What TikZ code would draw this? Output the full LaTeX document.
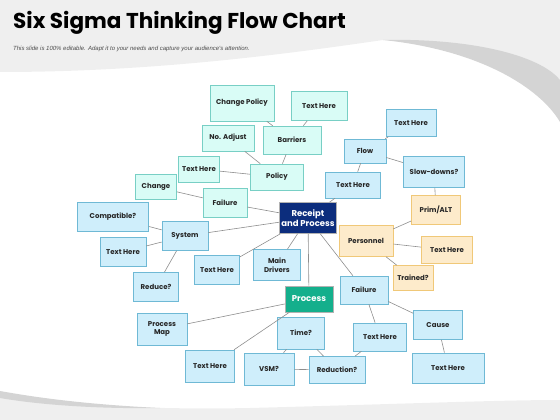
\documentclass[tikz,border=0pt]{standalone}
\usepackage{fontspec}
\setmainfont{Poppins}
\newfontfamily\subfont{Liberation Sans}
\usepackage{xcolor}
\usepackage{tikz}
\usetikzlibrary{positioning,shadows}

\definecolor{bandgray}{HTML}{EFEFEF}
\definecolor{swoosh}{HTML}{D4D4D4}
\definecolor{mintfill}{HTML}{D9FCF6}
\definecolor{mintline}{HTML}{78CFC5}
\definecolor{skyfill}{HTML}{CFEEFB}
\definecolor{skyline}{HTML}{6FB9D5}
\definecolor{sandfill}{HTML}{FDEBCB}
\definecolor{sandline}{HTML}{F0C878}
\definecolor{navyfill}{HTML}{0C2D7D}
\definecolor{tealfill}{HTML}{14AF8C}
\definecolor{linkgray}{HTML}{8E8E8E}

\begin{document}
\begin{tikzpicture}[x=1pt, y=-1pt,
  box/.style={draw, rectangle, inner sep=1pt, align=center, text=black!85,
    font=\fontsize{7}{8.5}\selectfont\bfseries, line width=0.6pt,
    drop shadow={shadow xshift=0.8pt, shadow yshift=-0.8pt, opacity=0.2, fill=black}},
  sz/.style 2 args={minimum width=#1pt, minimum height=#2pt},
  cbox/.style={box, fill=mintfill, draw=mintline},
  bbox/.style={box, fill=skyfill, draw=skyline},
  obox/.style={box, fill=sandfill, draw=sandline},
  hub/.style={box, text=white, draw=white!70!black,
    font=\fontsize{8.5}{10}\selectfont\bfseries},
  link/.style={draw=linkgray, line width=0.6pt}]
\useasboundingbox (0,0) rectangle (560,420);

% backdrop
\fill[bandgray] (0,0) -- (560,0) -- (560,80) .. controls (540,58) and (500,45) .. (383,40)
  .. controls (280,55) and (150,72) .. (0,72) -- cycle;
\fill[swoosh] (383,40) .. controls (470,38) and (540,55) .. (560,80) -- (560,122)
  .. controls (540,88) and (480,50) .. (383,40) -- cycle;
\fill[bandgray] (0,395) .. controls (60,405) and (150,410) .. (250,408)
  .. controls (400,404) and (500,400) .. (560,400) -- (560,420) -- (0,420) -- cycle;
\fill[swoosh] (0,391) .. controls (50,400) and (100,405) .. (160,408)
  .. controls (100,409) and (40,405) .. (0,398) -- cycle;

% titles
\node[anchor=base west, inner sep=0, font=\fontsize{21.5}{24}\selectfont\bfseries] (title) at (13,29) {Six Sigma Thinking Flow Chart};
\node[anchor=base west, inner sep=0, text=black!70, font=\subfont\itshape\fontsize{6}{7}\selectfont] (subtitle) at (13,51) {This slide is 100\% editable. Adapt it to your needs and capture your audience's attention.};

% hubs
\node[hub, fill=navyfill, sz={57}{31}] (rp) at (308,218) {Receipt\\and Process};
\node[hub, fill=tealfill, sz={48}{26}] (proc) at (309,299) {Process};

% upper left branch
\node[cbox, sz={64}{36}] (cpol) at (242,103) {Change Policy};
\node[cbox, sz={56}{29}] (thA) at (319,106) {Text Here};
\node[cbox, sz={52}{26}] (nadj) at (228,138) {No. Adjust};
\node[cbox, sz={58}{28}] (barr) at (292,140) {Barriers};
\node[cbox, sz={53}{26}] (pol) at (277,177) {Policy};
\node[cbox, sz={41}{26}] (thB) at (199,169) {Text Here};
\node[cbox, sz={41}{25}] (chg) at (156,187) {Change};
\node[cbox, sz={44}{29}] (failL) at (225,203) {Failure};

% left branch
\node[bbox, sz={71}{29}] (compat) at (113,217) {Compatible?};
\node[bbox, sz={46}{29}] (sys) at (185,236) {System};
\node[bbox, sz={46}{29}] (thC) at (123,252) {Text Here};
\node[bbox, sz={45}{29}] (red) at (156,287) {Reduce?};
\node[bbox, sz={45}{29}] (thD) at (217,270) {Text Here};
\node[bbox, sz={47}{31}] (mdrv) at (277,265) {Main\\Drivers};

% lower branch
\node[bbox, sz={50}{32}] (pmap) at (162,329) {Process\\Map};
\node[bbox, sz={49}{32}] (thE) at (210,366) {Text Here};
\node[bbox, sz={47}{32}] (time) at (301,333) {Time?};
\node[bbox, sz={50}{32}] (vsm) at (269,369) {VSM?};
\node[bbox, sz={56}{27}] (redn) at (337,370) {Reduction?};
\node[bbox, sz={53}{28}] (thF) at (380,337) {Text Here};
\node[bbox, sz={48}{28}] (failR) at (364,290) {Failure};
\node[bbox, sz={49}{29}] (cause) at (438,325) {Cause};
\node[bbox, sz={72}{30}] (thG) at (448,368) {Text Here};

% right branch
\node[obox, sz={54}{31}] (pers) at (366,241) {Personnel};
\node[obox, sz={40}{25}] (trnd) at (413,278) {Trained?};
\node[obox, sz={51}{27}] (thH) at (447,250) {Text Here};
\node[obox, sz={49}{29}] (prim) at (436,210) {Prim/ALT};
\node[bbox, sz={61}{31}] (slow) at (434,172) {Slow-downs?};
\node[bbox, sz={42}{24}] (flow) at (365,151) {Flow};
\node[bbox, sz={50}{27}] (thI) at (411,123) {Text Here};
\node[bbox, sz={55}{26}] (thJ) at (353,185) {Text Here};

% links
\foreach \a/\b in {cpol/barr, thA/barr, nadj/pol, barr/pol, thB/pol, chg/failL,
  failL/rp, compat/sys, sys/rp, thC/sys, sys/red, thD/rp, mdrv/rp, rp/proc,
  rp/thJ, thJ/flow, flow/thI, flow/slow, slow/prim, prim/pers, pers/thH,
  pers/trnd, rp/failR, proc/pmap, proc/thE, time/vsm, time/redn, vsm/redn,
  redn/thF, thF/failR, failR/cause, cause/thG}
  \path[link] (\a) -- (\b);
\end{tikzpicture}
\end{document}
